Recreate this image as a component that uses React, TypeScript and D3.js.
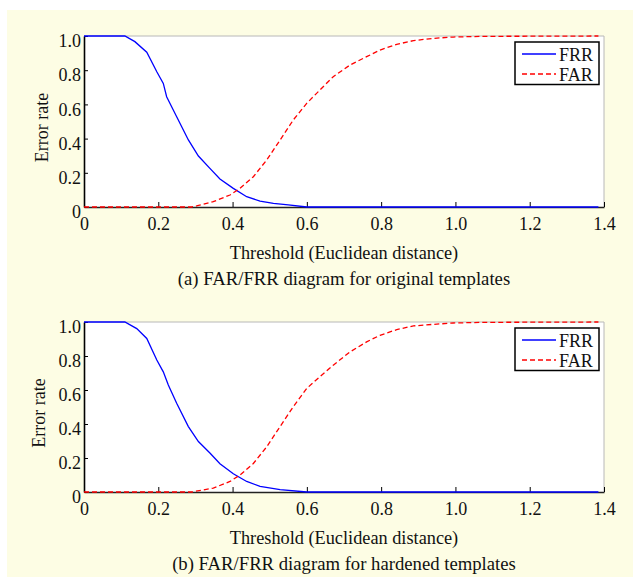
import React, { useRef, useEffect } from 'react';
import * as d3 from 'd3';

// Panel (a): original templates
const frrAx = [0, 0.11, 0.137, 0.169, 0.196, 0.2135, 0.2225, 0.2495, 0.281, 0.308, 0.339, 0.366, 0.402, 0.438, 0.474, 0.51, 0.55, 0.6, 1.385];
const frrAy = [1, 1, 0.967, 0.905, 0.791, 0.723, 0.645, 0.528, 0.392, 0.298, 0.226, 0.164, 0.109, 0.06, 0.035, 0.021, 0.012, 0, 0];
const farAx = [0, 0.29, 0.303, 0.348, 0.393, 0.42, 0.456, 0.492, 0.528, 0.5635, 0.5995, 0.635, 0.671, 0.716, 0.761, 0.797, 0.842, 0.887, 0.94, 0.994, 1.075, 1.385];
const farAy = [0, 0, 0.006, 0.031, 0.07, 0.109, 0.177, 0.275, 0.392, 0.509, 0.606, 0.684, 0.762, 0.83, 0.879, 0.918, 0.951, 0.973, 0.986, 0.994, 0.998, 1];

// Panel (b): hardened templates
const frrBx = [0, 0.11, 0.142, 0.169, 0.196, 0.2135, 0.227, 0.2495, 0.281, 0.308, 0.339, 0.366, 0.402, 0.438, 0.474, 0.528, 0.6, 1.385];
const frrBy = [1, 1, 0.961, 0.903, 0.776, 0.707, 0.629, 0.522, 0.385, 0.297, 0.229, 0.166, 0.107, 0.062, 0.033, 0.014, 0, 0];
const farBx = [0, 0.29, 0.348, 0.393, 0.42, 0.456, 0.492, 0.528, 0.5635, 0.6, 0.635, 0.671, 0.716, 0.761, 0.797, 0.842, 0.887, 0.94, 0.994, 1.075, 1.385];
const farBy = [0, 0, 0.023, 0.062, 0.1, 0.168, 0.266, 0.385, 0.502, 0.61, 0.678, 0.746, 0.824, 0.883, 0.922, 0.955, 0.977, 0.986, 0.994, 0.998, 1];

const xTicks = [0, 0.2, 0.4, 0.6, 0.8, 1.0, 1.2, 1.4];
const yTicks = [0, 0.2, 0.4, 0.6, 0.8, 1.0];
const legendLabels = ['FRR', 'FAR'];
const xLabel = 'Threshold (Euclidean distance)';
const yLabel = 'Error rate';
const captions = ['(a) FAR/FRR diagram for original templates', '(b) FAR/FRR diagram for hardened templates'];

const FONT = '"Liberation Serif", "Times New Roman", serif';

const App = () => {
    const svgRef = useRef(null);

    useEffect(() => {
        const svg = d3.select(svgRef.current);
        svg.selectAll('*').remove();

        svg.append('rect')
            .attr('x', 7).attr('y', 10)
            .attr('width', 626).attr('height', 567)
            .attr('fill', '#fdfde4');

        const left = 84, right = 604;
        const panels = [
            { top: 36, bottom: 207, frr: [frrAx, frrAy], far: [farAx, farAy], caption: captions[0], ylx: 41.5 },
            { top: 322, bottom: 492, frr: [frrBx, frrBy], far: [farBx, farBy], caption: captions[1], ylx: 39 },
        ];

        panels.forEach(p => {
            const x = d3.scaleLinear().domain([0, 1.4]).range([left, right]);
            const y = d3.scaleLinear().domain([0, 1]).range([p.bottom, p.top]);
            const g = svg.append('g');

            // plot area
            g.append('rect')
                .attr('x', left).attr('y', p.top)
                .attr('width', right - left).attr('height', p.bottom - p.top)
                .attr('fill', '#fff');

            // top / right spines (light)
            g.append('path')
                .attr('d', `M${left},${p.top}H${right}V${p.bottom}`)
                .attr('fill', 'none').attr('stroke', '#b8b8b8').attr('stroke-width', 1);

            // x axis
            const xAxis = g.append('g')
                .attr('transform', `translate(0,${p.bottom})`)
                .call(d3.axisBottom(x).tickValues(xTicks).tickSize(-5).tickSizeOuter(0).tickPadding(10)
                    .tickFormat(d => d === 0 ? '0' : d3.format('.1f')(d)));
            xAxis.select('.domain').attr('stroke', '#222').attr('stroke-width', 1.6);
            xAxis.selectAll('.tick line').attr('stroke', '#000');
            xAxis.selectAll('text').attr('font-family', FONT).attr('font-size', 18).attr('fill', '#111');

            // y axis
            const yAxis = g.append('g')
                .attr('transform', `translate(${left},0)`)
                .call(d3.axisLeft(y).tickValues(yTicks).tickSize(-4).tickSizeOuter(0).tickPadding(3)
                    .tickFormat(d => d === 0 ? '0' : d3.format('.1f')(d)));
            yAxis.select('.domain').attr('stroke', '#000').attr('stroke-width', 1.6);
            yAxis.selectAll('.tick line').attr('stroke', '#000');
            yAxis.selectAll('text').attr('font-family', FONT).attr('font-size', 18).attr('fill', '#111')
                .attr('y', 5);

            // curves
            const line = d3.line<[number, number]>().x(d => x(d[0])).y(d => y(d[1]));
            const frrPts = p.frr[0].map((v, i) => [v, p.frr[1][i]] as [number, number]);
            const farPts = p.far[0].map((v, i) => [v, p.far[1][i]] as [number, number]);

            g.append('path')
                .attr('d', line(frrPts))
                .attr('fill', 'none').attr('stroke', '#0000ff').attr('stroke-width', 1.3);
            g.append('path')
                .attr('d', line(farPts))
                .attr('fill', 'none').attr('stroke', '#ff0000').attr('stroke-width', 1.3)
                .attr('stroke-dasharray', '5,3');

            // legend
            const lg = g.append('g').attr('transform', `translate(515,${p.top + 6})`);
            lg.append('rect')
                .attr('width', 84).attr('height', 42.5)
                .attr('fill', '#fff').attr('stroke', '#000').attr('stroke-width', 1.5);
            legendLabels.forEach((lab, i) => {
                const ly = 12 + i * 20;
                lg.append('line')
                    .attr('x1', 7).attr('x2', 41).attr('y1', ly).attr('y2', ly)
                    .attr('stroke', i === 0 ? '#0000ff' : '#ff0000').attr('stroke-width', 1.3)
                    .attr('stroke-dasharray', i === 0 ? null : '5,3');
                lg.append('text')
                    .attr('x', 44).attr('y', ly + 6.5)
                    .attr('font-family', FONT).attr('font-size', 18).attr('fill', '#111')
                    .text(lab);
            });

            // labels
            g.append('text')
                .attr('transform', `translate(${p.ylx},${(p.top + p.bottom) / 2 + 6}) rotate(-90)`)
                .attr('text-anchor', 'middle').attr('dy', '0.35em')
                .attr('font-family', FONT).attr('font-size', 18).attr('fill', '#111')
                .text(yLabel);

            g.append('text')
                .attr('x', (left + right) / 2).attr('y', p.bottom + 52)
                .attr('text-anchor', 'middle')
                .attr('font-family', FONT).attr('font-size', 18.3).attr('fill', '#111')
                .text(xLabel);

            g.append('text')
                .attr('x', (left + right) / 2).attr('y', p.bottom + 78)
                .attr('text-anchor', 'middle')
                .attr('font-family', FONT).attr('font-size', 18.7).attr('fill', '#111')
                .text(p.caption);
        });
    }, []);

    return (
        <div style={{ position: 'absolute', left: 0, top: 0 }}>
            <svg ref={svgRef} width={633} height={581} style={{ display: 'block' }}></svg>
        </div>
    );
};

export default App;
